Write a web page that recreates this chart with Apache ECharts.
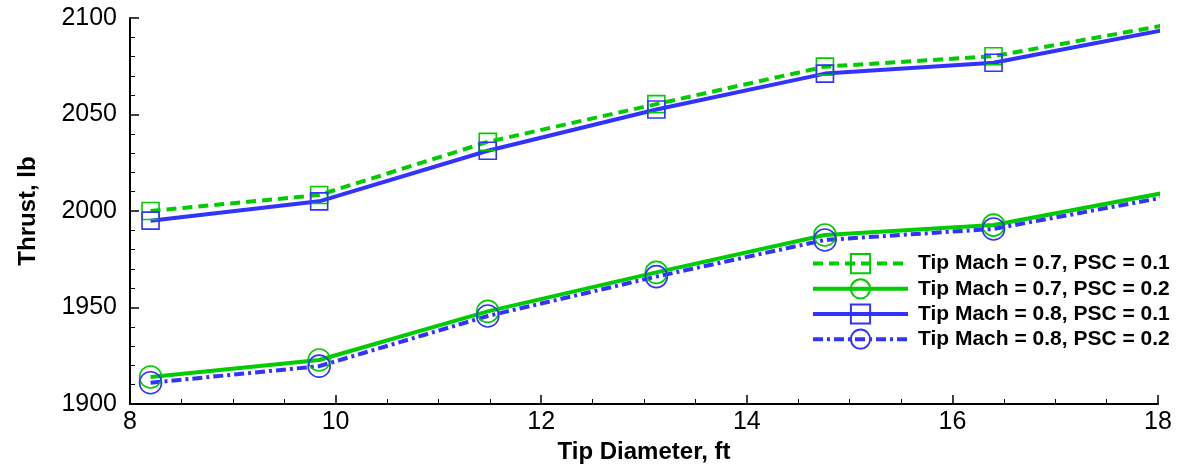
<!DOCTYPE html>
<html lang="en">
<head>
    <meta charset="UTF-8">
    <title>Thrust vs Tip Diameter</title>
    <style type="text/css">
        *{ margin: 0; padding: 0; }
        #main{ width: 1179px; height: 465px; background: #fff; }
    </style>
</head>
<body>
    <div id="main"></div>
    <script src="https://cdn.jsdelivr.net/npm/echarts@6/dist/echarts.min.js"></script>
    <script type="text/javascript">
        var myChart = echarts.init(document.getElementById('main'));

        // tip diameter, ft
        var tipDiameter = [8.2, 9.84, 11.48, 13.12, 14.76, 16.4, 18.04];
        // thrust, lb
        var m07psc01 = [2000, 2008.3, 2035.8, 2055.4, 2074.8, 2080.2, 2096];
        var m07psc02 = [1914, 1922.8, 1948, 1968.2, 1987.6, 1992.7, 2009.2];
        var m08psc01 = [1995, 2005, 2031.2, 2052.6, 2071.2, 2076.8, 2093.6];
        var m08psc02 = [1911, 1919.6, 1945.6, 1966, 1985, 1990.7, 2006.9];
        var seriesNames = [
            'Tip Mach = 0.7, PSC = 0.1',
            'Tip Mach = 0.7, PSC = 0.2',
            'Tip Mach = 0.8, PSC = 0.1',
            'Tip Mach = 0.8, PSC = 0.2'
        ];

        var green = '#00cc00';
        var blue = '#3333ff';

        function pairs(ys) {
            return tipDiameter.map(function (x, i) { return [x, ys[i]]; });
        }

        function makeSeries(name, ys, color, symbol, size, dash) {
            return {
                name: name,
                type: 'line',
                data: pairs(ys),
                symbol: symbol,
                symbolSize: size,
                showAllSymbol: true,
                lineStyle: { color: color, width: 4, type: dash },
                itemStyle: { color: 'rgba(0,0,0,0)', borderColor: color, borderWidth: 1.6 },
                emphasis: { disabled: true },
                z: 2
            };
        }

        var option = {
            animation: false,
            grid: { left: 130, right: 21, top: 18, bottom: 61, containLabel: false, outerBoundsMode: 'none' },
            legend: {
                left: 806,
                top: 248,
                orient: 'vertical',
                itemWidth: 95,
                itemHeight: 24,
                itemGap: 4,
                lineStyle: { width: 4 },
                textStyle: {
                    fontFamily: 'Liberation Sans', fontWeight: 'bold', fontSize: 21, color: '#000',
                    padding: [0, 0, 0, 5]
                },
                data: seriesNames
            },
            xAxis: {
                type: 'value',
                min: 8, max: 18, interval: 2,
                name: 'Tip Diameter, ft',
                nameLocation: 'middle',
                nameGap: 35,
                nameTextStyle: { fontFamily: 'Liberation Sans', fontWeight: 'bold', fontSize: 24, color: '#000' },
                axisLine: { lineStyle: { color: '#000', width: 2 } },
                axisTick: { inside: true, length: 9, lineStyle: { color: '#000', width: 1.5 } },
                minorTick: { show: true, splitNumber: 4, length: 5, lineStyle: { color: '#000', width: 1 } },
                axisLabel: { margin: 6, fontFamily: 'Liberation Sans', fontSize: 25, color: '#000' },
                splitLine: { show: false }
            },
            yAxis: {
                type: 'value',
                min: 1900, max: 2100, interval: 50,
                name: 'Thrust, lb',
                nameLocation: 'middle',
                nameGap: 90,
                nameTextStyle: { fontFamily: 'Liberation Sans', fontWeight: 'bold', fontSize: 24, color: '#000' },
                axisLine: { show: true, lineStyle: { color: '#000', width: 2 } },
                axisTick: { show: true, inside: true, length: 9, lineStyle: { color: '#000', width: 1.5 } },
                minorTick: { show: true, splitNumber: 5, length: 5, lineStyle: { color: '#000', width: 1 } },
                axisLabel: {
                    margin: 13, fontFamily: 'Liberation Sans', fontSize: 25, color: '#000',
                    formatter: function (v) { return String(v); }
                },
                splitLine: { show: false }
            },
            series: [
                makeSeries(seriesNames[0], m07psc01, green, 'rect', 17, [10, 6]),
                makeSeries(seriesNames[1], m07psc02, green, 'circle', 22, 'solid'),
                makeSeries(seriesNames[2], m08psc01, blue, 'rect', 17, 'solid'),
                makeSeries(seriesNames[3], m08psc02, blue, 'circle', 22, [10, 4, 3, 4])
            ]
        };

        myChart.setOption(option);
    </script>
</body>
</html>
